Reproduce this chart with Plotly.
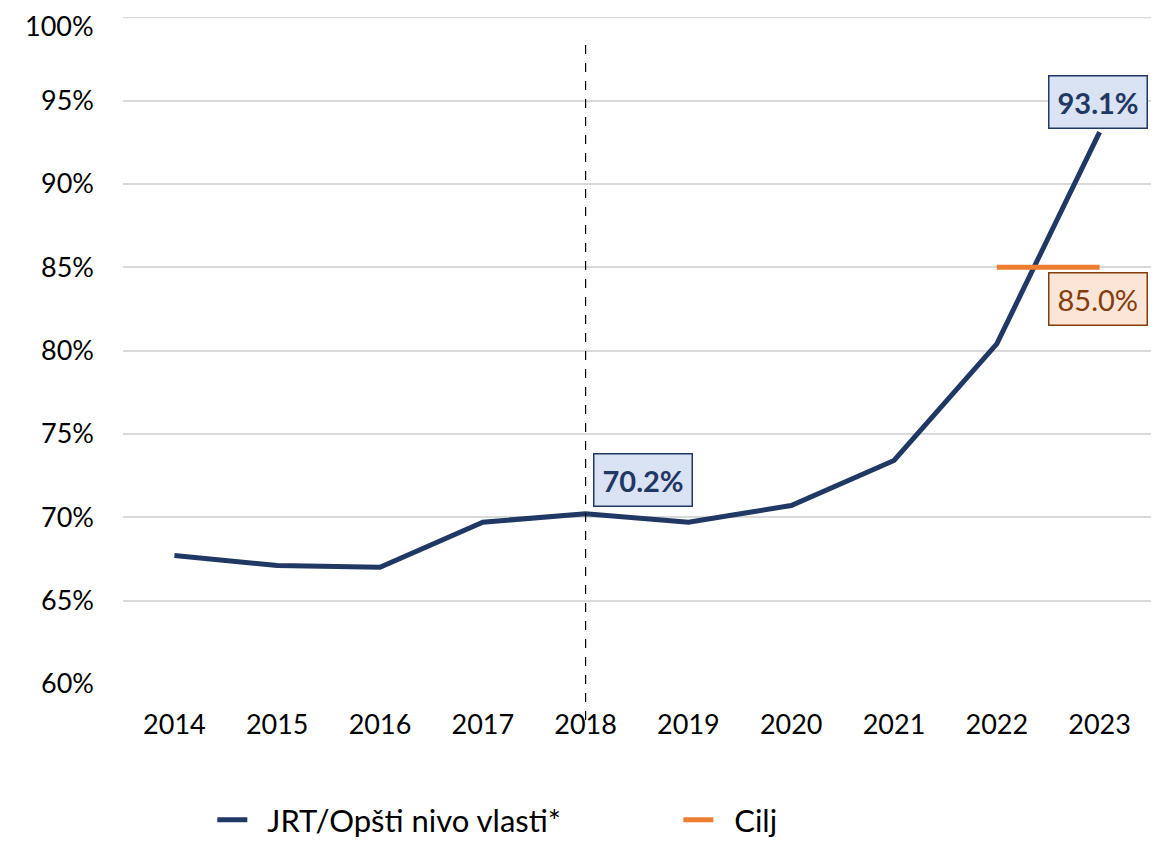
import plotly.graph_objects as go

years = [2014, 2015, 2016, 2017, 2018, 2019, 2020, 2021, 2022, 2023]
jrt = [67.7, 67.1, 67.0, 69.7, 70.2, 69.7, 70.7, 73.4, 80.4, 93.1]
cilj = [None, None, None, None, None, None, None, None, 85.0, 85.0]
y_ticks = [60, 65, 70, 75, 80, 85, 90, 95, 100]
name_jrt = "JRT/Opšti nivo vlasti*"
name_cilj = "Cilj"

FONT = "Lato"
NAVY = "#203864"
ORANGE = "#ED7D31"
GRID = "#D9D9D9"
PAD = "\u00a0\u00a0"
TOP_MARGIN = 9

fig = go.Figure()
fig.add_trace(go.Scatter(x=years, y=jrt, mode="lines", name=PAD + name_jrt,
                         line=dict(color=NAVY, width=5)))
fig.add_trace(go.Scatter(x=years, y=cilj, mode="lines", name=PAD + name_cilj,
                         line=dict(color=ORANGE, width=5)))

# top gridline (plotly clips gridlines at the exact plot edge)
fig.add_shape(type="line", xref="paper", yref="y", x0=0, x1=1, y0=y_ticks[-1], y1=y_ticks[-1],
              line=dict(color=GRID, width=2), layer="below")

# vertical dashed marker at 2018
fig.add_shape(type="line", xref="x", yref="paper", x0=2018, x1=2018,
              y0=-0.054, y1=0.9685, line=dict(color="black", width=1.2, dash="dash"))

# top tick label, kept inside the page like the reference
fig.add_annotation(x=0, y=1, xref="paper", yref="paper", text=f"{y_ticks[-1]}%",
                   showarrow=False, xanchor="right", yanchor="top", xshift=-28,
                   yshift=TOP_MARGIN, borderpad=0,
                   font=dict(family=FONT, size=27, color="black"))

def box(x, y, xs, ys, fc, bg, bc, bold):
    txt = f"{y:.1f}%"
    if bold:
        txt = f"<b>{txt}</b>"
    fig.add_annotation(x=x, y=y, xref="x", yref="y", text=txt, showarrow=False,
                       xshift=xs, yshift=ys, font=dict(family=FONT, size=29, color=fc),
                       bgcolor=bg, bordercolor=bc, borderwidth=1.5, borderpad=8)

box(years[4], jrt[4], 57, 34, "#1F3864", "#DAE3F3", "#1F3864", True)
box(years[9], jrt[9], -2, 30, "#1F3864", "#DAE3F3", "#1F3864", True)
box(years[9], cilj[9], -2, -32, "#843C0C", "#FBE5D6", "#843C0C", False)

fig.update_layout(
    width=1159, height=841,
    margin=dict(l=114.6, r=15.6, t=TOP_MARGIN, b=165, autoexpand=False),
    paper_bgcolor="white", plot_bgcolor="white",
    font=dict(family=FONT, size=27, color="black"),
    xaxis=dict(range=[2013.5, 2023.5], tickvals=years, ticktext=[str(y) for y in years],
               showgrid=False, zeroline=False, showline=False, ticks="",
               tickfont=dict(size=27), automargin=False, ticklabelstandoff=22,
               ticklabeloverflow="allow"),
    yaxis=dict(range=[59.99, 100.01], tickvals=y_ticks[:-1],
               ticktext=[f"{v}%" for v in y_ticks[:-1]],
               showgrid=True, gridcolor=GRID, gridwidth=2, zeroline=False,
               showline=False, ticks="", tickfont=dict(size=27), automargin=False,
               ticklabelstandoff=28, ticklabeloverflow="allow"),
    showlegend=True,
    legend=dict(orientation="h", x=0.0869, xanchor="left", y=-0.204, yanchor="middle",
                entrywidth=421, entrywidthmode="pixels",
                font=dict(size=31), bgcolor="rgba(0,0,0,0)"),
)

fig.write_html("out.html")
